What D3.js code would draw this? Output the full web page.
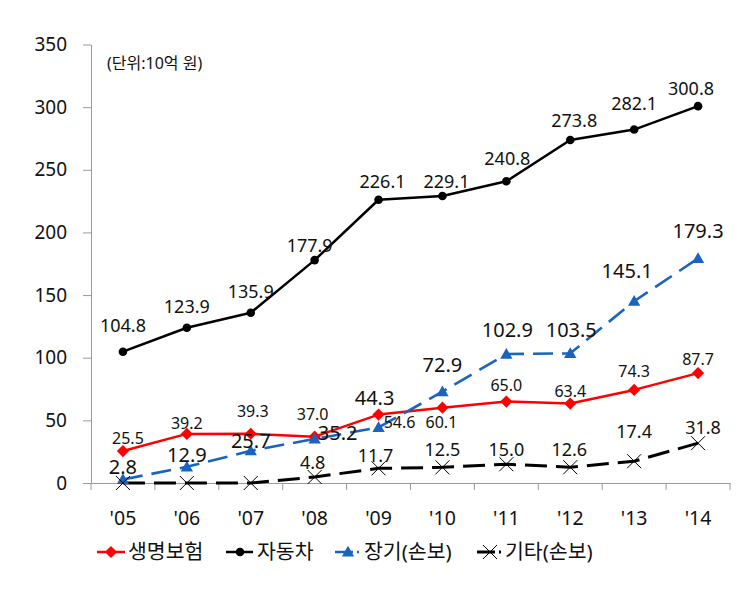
<!DOCTYPE html>
<html><head><meta charset="utf-8">
<script src="https://cdn.jsdelivr.net/npm/d3@7"></script>
<style>
html,body{margin:0;padding:0;background:#fff;}
text{font-family:"Noto Sans","Noto Sans CJK KR",sans-serif;}
</style></head>
<body><svg id="c" width="753" height="589"></svg>
<script>
// ---- data ----
const categories = ["'05","'06","'07","'08","'09","'10","'11","'12","'13","'14"];
const lifeIns  = [25.5, 39.2, 39.3, 37.0, 54.6, 60.1, 65.0, 63.4, 74.3, 87.7];   // 생명보험
const auto     = [104.8, 123.9, 135.9, 177.9, 226.1, 229.1, 240.8, 273.8, 282.1, 300.8]; // 자동차
const longTerm = [2.8, 12.9, 25.7, 35.2, 44.3, 72.9, 102.9, 103.5, 145.1, 179.3]; // 장기(손보)
const others   = [0, 0, 0, 4.8, 11.7, 12.5, 15.0, 12.6, 17.4, 31.8];  // 기타(손보)
const yTicks = [0, 50, 100, 150, 200, 250, 300, 350];
const seriesNames = ["생명보험", "자동차", "장기(손보)", "기타(손보)"];

// ---- label nudges (layout only) ----
const nudgeLife  = [[5,-7],[0,-5],[2,-17],[-2,-17],[21,13],[-1,20],[0,-11],[0,-7],[0,-13],[0,-8]];
const nudgeAuto  = [[0,-20],[0,-15],[0,-15],[-5,-8],[4,-12],[4,-8],[1,-16],[4,-13],[0,-20],[-7,-11]];
const nudgeLong  = [[0,-5],[0,-5],[0,-3],[23,1],[-4,-22],[0,-20],[1,-17],[1,-16],[-7,-23],[0,-20]];
const nudgeOther = [null,null,null,[-2,-8],[-3,-6],[0,-11],[0,-8],[-1,-11],[0,-23],[5,-9]];

const svg = d3.select("#c");
const x = d3.scaleBand().domain(categories).range([91, 730]);
const y = d3.scaleLinear().domain([0, 350]).range([483, 44.5]);
const cx = c => x(c) + x.bandwidth()/2;
const axisCol = "#9a9a9a";

// y axis
const ya = svg.append("g").attr("transform","translate(91,0)")
  .call(d3.axisLeft(y).tickValues(yTicks).tickSize(8).tickSizeOuter(0).tickPadding(6));
ya.select(".domain").attr("stroke",axisCol);
ya.selectAll(".tick line").attr("stroke",axisCol);
ya.selectAll(".tick text").attr("font-size",19).attr("fill","#111").attr("dx",-10);

// x axis
const xa = svg.append("g").attr("transform","translate(0,483)")
  .call(d3.axisBottom(x).tickSize(0).tickSizeOuter(0).tickPadding(0));
xa.select(".domain").attr("stroke",axisCol);
xa.selectAll(".tick text").attr("font-size",19.5).attr("fill","#111").attr("dy",null).attr("y",42);
const edges = categories.map(c => x(c)).concat([x.range()[1]]);
xa.selectAll(".edge").data(edges).join("line").attr("class","edge")
  .attr("x1",d=>d).attr("x2",d=>d).attr("y1",0).attr("y2",7).attr("stroke",axisCol);

// unit
svg.append("text").attr("x",107).attr("y",69).attr("font-size",16).attr("fill","#111").text("(단위:10억 원)");

const line = d3.line().x((d,i)=>cx(categories[i])).y(d=>y(d));

const series = [
  {vals: lifeIns,  color:"#ff0000", dash:null,   w:2.5, marker:"diamond", fs:16, nudge:nudgeLife},
  {vals: auto,     color:"#000000", dash:null,   w:2.5, marker:"circle",  fs:18, nudge:nudgeAuto},
  {vals: longTerm, color:"#1a64c0", dash:"20,9", w:2.6, marker:"triangle",fs:20, nudge:nudgeLong},
  {vals: others,   color:"#000000", dash:"22,9", w:3,   marker:"x",       fs:18, nudge:nudgeOther}
];

function drawMarker(g, type, color, px, py){
  if(type==="diamond"){
    g.append("path").attr("d",d3.symbol(d3.symbolDiamond2 || d3.symbolDiamond, 95)()).attr("transform",`translate(${px},${py})`)
     .attr("fill",color);
  } else if(type==="circle"){
    g.append("circle").attr("cx",px).attr("cy",py).attr("r",4.3).attr("fill",color);
  } else if(type==="triangle"){
    g.append("path").attr("d",d3.symbol(d3.symbolTriangle, 66)()).attr("transform",`translate(${px},${py+1})`).attr("fill",color);
  } else if(type==="x"){
    const s=7;
    g.append("path").attr("d",`M${px-s},${py-s}L${px+s},${py+s}M${px-s},${py+s}L${px+s},${py-s}`)
     .attr("stroke",color).attr("stroke-width",1).attr("fill","none");
  }
}

const plot = svg.append("g");
series.forEach(s=>{
  plot.append("path").datum(s.vals).attr("d",line).attr("fill","none")
    .attr("stroke",s.color).attr("stroke-width",s.w).attr("stroke-dasharray",s.dash)
    .attr("stroke-linejoin","round");
});
series.forEach(s=>{
  s.vals.forEach((v,i)=>drawMarker(plot, s.marker, s.color, cx(categories[i]), y(v)));
});
// labels
const lab = svg.append("g");
series.forEach(s=>{
  s.vals.forEach((v,i)=>{
    const n = s.nudge[i]; if(!n) return;
    lab.append("text").attr("x",cx(categories[i])+n[0]).attr("y",y(v)+n[1])
      .attr("text-anchor","middle").attr("font-size",s.fs).attr("fill","#111").text(v.toFixed(1));
  });
});

// legend
const leg = svg.append("g");
const legItems = [
  {x1:97, x2:125, mx:111, tx:128},
  {x1:226, x2:253, mx:240, tx:257},
  {x1:335, x2:363, mx:348, tx:364},
  {x1:477, x2:503, mx:490, tx:505}
];
const ly = 552;
legItems.forEach((it,k)=>{
  const s = series[k];
  leg.append("line").attr("x1",it.x1).attr("x2",it.x2).attr("y1",ly).attr("y2",ly)
    .attr("stroke",s.color).attr("stroke-width",s.w)
    .attr("stroke-dasharray", s.dash ? "18,4,2,10" : null);
  drawMarker(leg, s.marker, s.color, it.mx, ly);
  leg.append("text").attr("x",it.tx).attr("y",ly+7).attr("font-size",20.5).attr("fill","#111").text(seriesNames[k]);
});
</script></body></html>
